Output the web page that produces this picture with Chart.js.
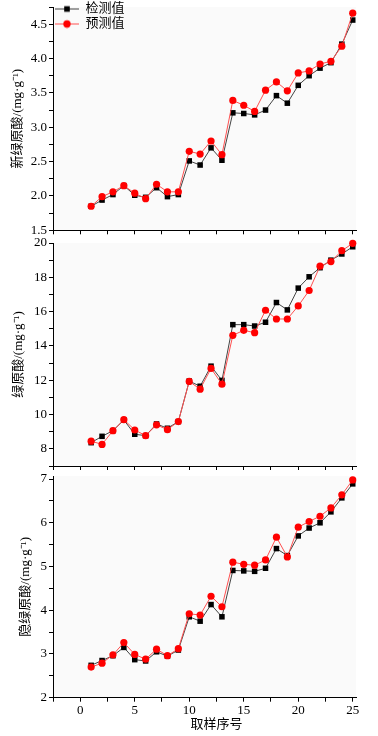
<!DOCTYPE html>
<html><head><meta charset="utf-8">
<script src="https://cdn.jsdelivr.net/npm/chart.js@4.4.1/dist/chart.umd.min.js"></script>
<style>
html,body{margin:0;padding:0;background:#fff;}
#wrap{position:relative;width:378px;height:736px;overflow:hidden;background:#fff;}
.p{position:absolute;left:0;width:378px;}
</style></head><body>
<div id="wrap">
<div class="p" style="top:0;height:240px"><canvas id="c1"></canvas></div>
<div class="p" style="top:236px;height:240px"><canvas id="c2"></canvas></div>
<div class="p" style="top:470px;height:266px"><canvas id="c3"></canvas></div>
</div>
<script>
// ---- data ----
const samples = [1,2,3,4,5,6,7,8,9,10,11,12,13,14,15,16,17,18,19,20,21,22,23,24,25];
const seriesNames = ['检测值', '预测值'];
const xTitle = '取样序号';

const neoMeasured  = [1.85,1.94,2.02,2.15,2.01,1.98,2.12,1.99,2.02,2.51,2.45,2.70,2.52,3.21,3.20,3.18,3.25,3.46,3.35,3.61,3.75,3.86,3.94,4.21,4.56];
const neoPredicted = [1.85,1.99,2.06,2.15,2.04,1.96,2.17,2.06,2.06,2.65,2.61,2.80,2.60,3.39,3.32,3.23,3.54,3.66,3.53,3.79,3.82,3.92,3.96,4.18,4.66];

const cgaMeasured  = [8.36,8.73,9.06,9.68,8.85,8.77,9.45,9.20,9.59,11.95,11.65,12.82,11.99,15.24,15.24,15.16,15.38,16.53,16.10,17.37,18.03,18.56,19.00,19.36,19.78];
const cgaPredicted = [8.45,8.26,9.06,9.70,9.10,8.77,9.40,9.12,9.59,11.93,11.48,12.69,11.77,14.62,14.91,14.77,16.08,15.57,15.57,16.33,17.23,18.65,18.92,19.55,19.98];

const ccgaMeasured  = [2.74,2.85,2.96,3.15,2.87,2.84,3.05,2.95,3.09,3.85,3.75,4.13,3.85,4.91,4.90,4.89,4.96,5.41,5.25,5.70,5.88,6.00,6.25,6.57,6.89];
const ccgaPredicted = [2.70,2.79,2.98,3.26,2.99,2.88,3.11,2.96,3.12,3.92,3.89,4.32,4.08,5.10,5.05,5.03,5.15,5.67,5.22,5.90,6.03,6.15,6.34,6.64,6.98];

// tick values and labels
const xTickValues = [-2.5,0,2.5,5,7.5,10,12.5,15,17.5,20,22.5,25];
const xTickLabels = ['','0','','5','','10','','15','','20','','25'];

const neoTickValues = [1.5,1.75,2,2.25,2.5,2.75,3,3.25,3.5,3.75,4,4.25,4.5,4.75];
const neoTickLabels = ['1.5','','2.0','','2.5','','3.0','','3.5','','4.0','','4.5',''];

const cgaTickValues = [7,8,9,10,11,12,13,14,15,16,17,18,19,20];
const cgaTickLabels = ['','8','','10','','12','','14','','16','','18','','20'];

const ccgaTickValues = [2,2.5,3,3.5,4,4.5,5,5.5,6,6.5,7];
const ccgaTickLabels = ['2','','3','','4','','5','','6','','7'];

// ---- styling ----
const FONT = '"Liberation Serif", "Noto Sans CJK SC", serif';
const BG = '#fafafa';

function makeIcon(kind){
  const c = document.createElement('canvas');
  c.width = 24; c.height = 10;
  const g = c.getContext('2d');
  g.strokeStyle = kind === 'rect' ? '#444' : '#ff5050';
  g.lineWidth = 1;
  g.beginPath(); g.moveTo(0,5.5); g.lineTo(24,5.5); g.stroke();
  if (kind === 'rect') { g.fillStyle = '#000'; g.fillRect(9.2,2.7,5.6,5.6); }
  else { g.fillStyle = '#ff0000'; g.beginPath(); g.arc(12,5.5,3.7,0,Math.PI*2); g.fill(); }
  return c;
}
const legendIcons = [makeIcon('rect'), makeIcon('circle')];

const bgPlugin = {
  id: 'plotBg',
  beforeDraw(chart){
    const {ctx, chartArea:a} = chart;
    ctx.save(); ctx.fillStyle = BG;
    ctx.fillRect(a.left, a.top, a.right - a.left, a.bottom - a.top);
    ctx.restore();
  }
};
const xTitlePlugin = {
  id: 'xTitle',
  afterDraw(chart, args, opts){
    if (!opts || !opts.text) return;
    const s = chart.scales.x, ctx = chart.ctx;
    const cx = (s.getPixelForValue(0) + s.getPixelForValue(25)) / 2;
    ctx.save();
    ctx.font = '13px ' + FONT;
    ctx.fillStyle = '#000';
    ctx.textAlign = 'center'; ctx.textBaseline = 'middle';
    ctx.fillText(opts.text, cx, s.bottom - 11);
    ctx.restore();
  }
};

function makeChart(id, cfg){
  const toPts = arr => arr.map((v,i) => ({x: samples[i], y: v}));
  return new Chart(document.getElementById(id), {
    type: 'line',
    data: { datasets: [
      { label: seriesNames[0], data: toPts(cfg.measured), borderColor: '#444', borderWidth: 1,
        pointStyle: 'rect', pointRadius: 3.9, pointBackgroundColor: '#000', pointBorderWidth: 0,
        order: 2, clip: false, tension: 0 },
      { label: seriesNames[1], data: toPts(cfg.predicted), borderColor: '#ff5050', borderWidth: 1,
        pointStyle: 'circle', pointRadius: 3.6, pointBackgroundColor: '#ff0000', pointBorderWidth: 0,
        order: 1, clip: false, tension: 0 }
    ]},
    options: {
      responsive: true, maintainAspectRatio: false, animation: false,
      events: [],
      layout: { padding: { left: 0, right: 22, top: cfg.top, bottom: 0 } },
      plugins: {
        tooltip: { enabled: false },
        xTitle: { text: cfg.xTitle || '' },
        legend: cfg.legend ? {
          display: true, position: 'chartArea', align: 'start',
          labels: {
            usePointStyle: true, pointStyleWidth: 24, boxHeight: 10, padding: 2,
            color: '#000', font: { family: FONT, size: 13 },
            sort: (a,b) => a.datasetIndex - b.datasetIndex,
            generateLabels: chart => chart.data.datasets.map((ds,i) => ({
              text: ds.label, pointStyle: legendIcons[i], datasetIndex: i,
              fillStyle: 'rgba(0,0,0,0)', strokeStyle: 'rgba(0,0,0,0)', lineWidth: 0, hidden: false, fontColor: '#000'
            }))
          }
        } : { display: false }
      },
      scales: {
        x: {
          type: 'linear', min: -2.5, max: 25.3,
          afterBuildTicks: s => { s.ticks = xTickValues.map(v => ({value: v})); },
          afterFit: s => { s.height = cfg.xh; s.paddingLeft = 0; s.paddingRight = 0; },
          ticks: { autoSkip: false, maxRotation: 0, padding: 1, color: '#000',
                   font: { family: FONT, size: 13 },
                   callback: (v, i) => cfg.xLabels ? xTickLabels[i] : '' },
          grid: { drawOnChartArea: false, drawTicks: true, tickLength: 4, tickColor: '#000', tickWidth: 1 },
          border: { display: true, color: '#000', width: 1 }
        },
        y: {
          type: 'linear', min: cfg.ymin, max: cfg.ymax,
          afterBuildTicks: s => { s.ticks = cfg.tickValues.map(v => ({value: v})); },
          afterFit: s => { s.width = 53; s.paddingTop = 0; s.paddingBottom = 0; },
          ticks: { autoSkip: false, padding: 2, color: '#000',
                   font: { family: FONT, size: 13 },
                   callback: (v, i) => cfg.tickLabels[i] },
          grid: { drawOnChartArea: false, drawTicks: true, tickLength: 4, tickColor: '#000', tickWidth: 1 },
          border: { display: true, color: '#000', width: 1 },
          title: { display: true, text: cfg.yTitle, color: '#000',
                   font: { family: FONT, size: 13 }, padding: { top: cfg.titlePad, bottom: 0 } }
        }
      }
    },
    plugins: [bgPlugin, xTitlePlugin]
  });
}

makeChart('c1', { measured: neoMeasured, predicted: neoPredicted, ymin: 1.5, ymax: 4.75,
  tickValues: neoTickValues, tickLabels: neoTickLabels, yTitle: '新绿原酸/(mg·g⁻¹)',
  top: 7, xh: 9.7, legend: true, xLabels: false, titlePad: 10 });
makeChart('c2', { measured: cgaMeasured, predicted: cgaPredicted, ymin: 7, ymax: 20,
  tickValues: cgaTickValues, tickLabels: cgaTickLabels, yTitle: '绿原酸/(mg·g⁻¹)',
  top: 7, xh: 10, legend: false, xLabels: false, titlePad: 11 });
makeChart('c3', { measured: ccgaMeasured, predicted: ccgaPredicted, ymin: 2, ymax: 7.07,
  tickValues: ccgaTickValues, tickLabels: ccgaTickLabels, yTitle: '隐绿原酸/(mg·g⁻¹)',
  top: 6, xh: 38.3, legend: false, xLabels: true, titlePad: 18, xTitle: xTitle });
</script>
</body></html>
